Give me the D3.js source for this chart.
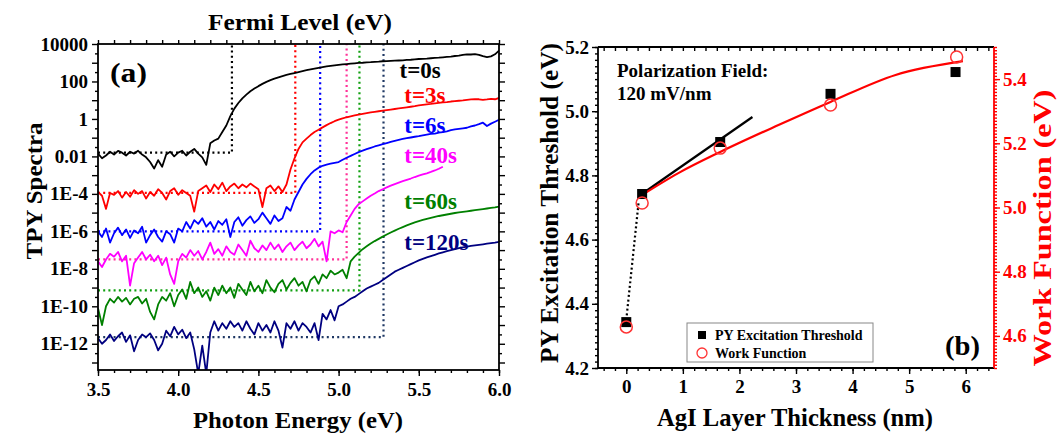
<!DOCTYPE html>
<html>
<head>
<meta charset="utf-8">
<script src="https://cdn.jsdelivr.net/npm/d3@7"></script>
<style>
  body { margin: 0; background: #fff; }
  text { font-family: "Liberation Serif", "Times New Roman", serif; font-weight: bold; }
</style>
</head>
<body>
<svg id="chart" width="1061" height="433"></svg>
<script>
/* global d3 */

// ---- panel (a): TPY spectra, log10 of yield, sampled every 0.025 eV from 3.5 eV ----
var energyStart = 3.5;
var energyStep = 0.025;

var spectrumLabels = ['t=0s', 't=3s', 't=6s', 't=40s', 't=60s', 't=120s'];
var thresholdEnergy = [4.335, 4.73, 4.885, 5.05, 5.13, 5.28];
var baselineLog = [-1.8, -3.95, -6.0, -7.5, -9.15, -11.65];
var labelEnergy = [5.38, 5.41, 5.41, 5.41, 5.41, 5.41];
var labelLog = [2.61, 1.28, -0.33, -1.93, -4.39, -6.58];

var logT0 = [-1.85, -2.1, -1.95, -1.75, -1.9, -1.7, -1.8, -1.95, -1.75, -1.85, -1.7, -1.9, -2.05, -2.3, -2.65, -2.2,
  -2.55, -1.9, -1.75, -2.0, -1.8, -1.7, -1.95, -1.75, -1.6, -1.85, -2.05, -2.45, -1.3, -1.15, -1.05, -0.7, -0.35,
  0.15, 0.55, 0.85, 1.1, 1.3, 1.48, 1.62, 1.75, 1.87, 1.98, 2.07, 2.15, 2.22, 2.29, 2.35, 2.4, 2.45, 2.5, 2.55, 2.6,
  2.64, 2.68, 2.72, 2.76, 2.8, 2.83, 2.86, 2.89, 2.91, 2.93, 2.95, 2.97, 2.99, 3.0, 3.02, 3.03, 3.05, 3.06, 3.08,
  3.09, 3.1, 3.11, 3.12, 3.13, 3.15, 3.16, 3.18, 3.2, 3.21, 3.22, 3.24, 3.26, 3.27, 3.29, 3.31, 3.33, 3.36, 3.38,
  3.42, 3.45, 3.44, 3.46, 3.42, 3.35, 3.3, 3.34, 3.45, 3.65];

var logT3 = [-3.9, -4.1, -4.8, -3.95, -4.05, -3.85, -4.2, -3.9, -4.15, -3.8, -4.0, -3.85, -4.25, -3.9, -4.1, -3.75,
  -3.95, -4.3, -3.85, -3.7, -4.05, -3.8, -3.95, -4.1, -4.95, -3.85, -3.7, -3.55, -3.9, -3.5, -3.75, -3.4, -3.85,
  -3.6, -3.45, -3.7, -3.5, -3.65, -3.45, -3.6, -3.75, -4.7, -3.7, -3.55, -3.85, -3.6, -3.9, -3.5, -2.7, -2.1, -1.6,
  -1.25, -1.05, -0.86, -0.7, -0.58, -0.45, -0.33, -0.22, -0.12, -0.04, 0.03, 0.09, 0.14, 0.19, 0.23, 0.27, 0.31,
  0.35, 0.38, 0.41, 0.44, 0.47, 0.5, 0.53, 0.56, 0.59, 0.62, 0.65, 0.68, 0.72, 0.75, 0.78, 0.8, 0.83, 0.86, 0.88,
  0.9, 0.93, 0.95, 0.97, 0.99, 1.02, 1.04, 1.06, 1.05, 1.02, 1.04, 1.07, 1.05, 1.12];

var logT6 = [-6.0, -6.3, -5.85, -6.6, -6.1, -5.8, -6.2, -5.9, -6.35, -5.95, -6.1, -5.75, -6.6, -6.2, -5.9, -6.3,
  -6.55, -6.0, -6.15, -6.6, -5.85, -6.0, -5.5, -5.85, -5.4, -5.6, -5.3, -5.75, -5.5, -5.9, -5.45, -5.65, -5.35,
  -6.3, -5.5, -5.25, -5.7, -5.4, -5.2, -5.55, -5.35, -5.0, -5.3, -5.6, -5.15, -5.45, -5.3, -4.7, -4.9, -4.3, -3.9,
  -3.5, -3.2, -2.95, -2.75, -2.6, -2.5, -2.44, -2.39, -2.34, -2.3, -2.18, -2.07, -1.97, -1.87, -1.77, -1.69, -1.61,
  -1.54, -1.47, -1.41, -1.35, -1.29, -1.23, -1.17, -1.12, -1.07, -1.03, -0.99, -0.95, -0.92, -0.88, -0.84, -0.8,
  -0.78, -0.73, -0.7, -0.66, -0.6, -0.56, -0.53, -0.5, -0.47, -0.4, -0.35, -0.28, -0.2, -0.38, -0.25, -0.15, -0.05];

var logT40 = [-7.6, -7.9, -7.5, -7.2, -7.35, -7.1, -7.6, -7.3, -8.9, -7.7, -7.4, -7.1, -7.5, -7.25, -7.6, -7.3,
  -7.8, -7.4, -8.3, -8.8, -7.6, -7.2, -7.4, -7.0, -7.3, -7.05, -7.5, -7.1, -6.6, -7.2, -6.95, -7.3, -6.8, -7.1,
  -7.25, -6.7, -7.0, -7.3, -6.5, -6.9, -7.1, -6.75, -7.0, -6.6, -6.95, -6.7, -7.1, -6.8, -6.6, -7.0, -6.75, -6.55,
  -6.9, -6.7, -6.4, -6.8, -6.55, -7.6, -6.0, -6.1, -5.95, -6.05, -5.5, -5.15, -4.8, -4.55, -4.4, -4.25, -4.1,
  -3.98, -3.85, -3.75, -3.65, -3.56, -3.48, -3.4, -3.32, -3.25, -3.18, -3.1, -3.03, -2.96, -2.9, -2.83, -2.75,
  -2.66, -2.55];

var logT60 = [-10.1, -11.0, -10.0, -9.6, -9.8, -9.5, -9.75, -9.55, -9.9, -9.6, -9.5, -9.85, -9.6, -10.3, -10.7,
  -9.9, -9.5, -9.7, -9.3, -10.0, -9.4, -9.1, -9.6, -8.7, -9.3, -9.0, -9.5, -9.2, -9.7, -9.0, -9.4, -8.9, -9.3,
  -9.0, -9.55, -8.8, -9.1, -9.4, -8.7, -9.2, -8.9, -9.3, -8.6, -9.0, -9.25, -8.8, -8.6, -9.1, -8.75, -8.5, -8.9,
  -8.7, -9.2, -8.6, -8.4, -8.8, -8.3, -8.5, -8.1, -8.3, -8.2, -8.05, -8.5, -7.6, -7.35, -7.15, -6.95, -6.8, -6.65,
  -6.52, -6.4, -6.28, -6.17, -6.06, -5.96, -5.86, -5.77, -5.68, -5.6, -5.52, -5.45, -5.39, -5.33, -5.28, -5.23,
  -5.18, -5.14, -5.1, -5.06, -5.02, -4.99, -4.96, -4.93, -4.9, -4.87, -4.84, -4.81, -4.78, -4.75, -4.72, -4.68];

var logT120 = [-11.7, -12.0, -11.8, -11.5, -11.85, -11.6, -11.4, -11.9, -11.55, -12.4, -11.8, -11.5, -11.65,
  -11.45, -11.8, -12.35, -12.0, -11.3, -11.6, -11.1, -11.5, -11.25, -11.7, -11.4, -12.3, -13.6, -12.1, -13.6,
  -11.4, -10.8, -11.3, -10.9, -11.2, -10.8, -11.1, -10.9, -11.3, -10.8, -11.2, -11.5, -10.9, -11.3, -11.0, -11.4,
  -10.8, -11.3, -12.2, -10.9, -11.2, -10.8, -11.3, -10.9, -11.1, -11.4, -10.9, -11.8, -10.4, -10.7, -10.2, -10.75,
  -10.0, -9.9, -9.75, -9.6, -9.5, -9.35, -9.2, -9.05, -8.95, -8.85, -8.75, -8.6, -8.45, -8.3, -8.15, -8.05, -7.95,
  -7.85, -7.75, -7.65, -7.55, -7.47, -7.39, -7.32, -7.25, -7.18, -7.12, -7.06, -7.0, -6.95, -6.9, -6.86, -6.82,
  -6.78, -6.75, -6.72, -6.69, -6.66, -6.63, -6.6, -6.56];

var tpyTickExps = [4, 2, 0, -2, -4, -6, -8, -10, -12];
var tpyTickLabels = ['10000', '100', '1', '0.01', '1E-4', '1E-6', '1E-8', '1E-10', '1E-12'];
var energyTicks = [3.5, 4.0, 4.5, 5.0, 5.5, 6.0];

// ---- panel (b): thresholds vs AgI thickness ----
var pyThickness = [0, 0.28, 1.66, 3.61, 5.82];
var pyThreshold = [4.343, 4.742, 4.904, 5.054, 5.122];
var wfThickness = [0, 0.28, 1.66, 3.61, 5.84];
var workFunction = [4.628, 5.014, 5.185, 5.319, 5.469];
var pyFitX = [0.25, 2.23];
var pyFitY = [4.739, 4.982];
var pyJumpX = [0, 0.22];
var pyJumpY = [4.35, 4.72];
var wfFitX = [0.28, 0.92, 1.66, 2.69, 3.61, 4.76, 5.95];
var wfFitY = [5.039, 5.107, 5.173, 5.257, 5.329, 5.413, 5.456];

var spectrumColors = ['#000000', '#ff0000', '#0000ff', '#ff00ff', '#008000', '#000080'];
var guideColors = ['#000000', '#ff0000', '#0000ff', '#ff3399', '#10a010', '#1f3864'];
var spectra = [logT0, logT3, logT6, logT40, logT60, logT120];

var svg = d3.select('#chart');

function frame(x0, y0, x1, y1) {
  svg.append('rect')
    .attr('x', x0).attr('y', y0)
    .attr('width', x1 - x0).attr('height', y1 - y0)
    .attr('fill', 'none').attr('stroke', '#000').attr('stroke-width', 1.8);
}

function styleAxis(g, color, fontSize) {
  g.select('.domain').remove();
  g.selectAll('line').attr('stroke', color).attr('stroke-width', 1.4);
  g.selectAll('text').attr('fill', color).style('font-size', fontSize + 'px')
    .style('font-family', '"Liberation Serif", "Times New Roman", serif').style('font-weight', 'bold');
}

function title(x, y, str, size, len, rotate, color) {
  var t = svg.append('text')
    .attr('transform', 'translate(' + x + ',' + y + ')' + (rotate ? ' rotate(-90)' : ''))
    .attr('text-anchor', 'middle').attr('dy', '0.35em')
    .attr('fill', color || '#000')
    .style('font-size', size + 'px')
    .text(str);
  if (len) {
    t.attr('textLength', len).attr('lengthAdjust', 'spacingAndGlyphs');
  }
  return t;
}

// ================= panel (a) =================
var xA = d3.scaleLinear().domain([3.5, 6.0]).range([98, 499]);
var yA = d3.scaleLog().domain([Math.pow(10, -13.4), 1e4]).range([370, 44]);

svg.append('clipPath').attr('id', 'clipA')
  .append('rect').attr('x', 98).attr('y', 44).attr('width', 401).attr('height', 326);

var minorE = d3.range(35, 61).map(function(d) { return d / 10; });
var decades = d3.range(-13, 5).map(function(d) { return Math.pow(10, d); });
var halfDecades = d3.range(-13, 4).map(function(d) { return Math.pow(10, d + 0.5); });

svg.append('g').attr('transform', 'translate(0,370)')
  .call(d3.axisBottom(xA).tickValues(minorE).tickSize(3).tickFormat(''))
  .call(styleAxis, '#000', 19);
svg.append('g').attr('transform', 'translate(0,370)')
  .call(d3.axisBottom(xA).tickValues(energyTicks).tickSize(6).tickPadding(7).tickFormat(d3.format('.1f')))
  .call(styleAxis, '#000', 19);
svg.append('g').attr('transform', 'translate(0,44)')
  .call(d3.axisTop(xA).tickValues(minorE).tickSize(4).tickFormat(''))
  .call(styleAxis, '#000', 19);

svg.append('g').attr('transform', 'translate(98,0)')
  .call(d3.axisLeft(yA).tickValues(halfDecades).tickSize(3).tickFormat(''))
  .call(styleAxis, '#000', 19);
svg.append('g').attr('transform', 'translate(98,0)')
  .call(d3.axisLeft(yA).tickValues(decades).tickSize(6).tickPadding(4).tickFormat(function(d) {
    var e = Math.round(Math.log10(d));
    var k = tpyTickExps.indexOf(e);
    return k < 0 ? '' : tpyTickLabels[k];
  }))
  .call(styleAxis, '#000', 19);
svg.append('g').attr('transform', 'translate(499,0)')
  .call(d3.axisRight(yA).tickValues(halfDecades).tickSize(3).tickFormat(''))
  .call(styleAxis, '#000', 19);
svg.append('g').attr('transform', 'translate(499,0)')
  .call(d3.axisRight(yA).tickValues(decades).tickSize(6).tickFormat(''))
  .call(styleAxis, '#000', 19);

var plotA = svg.append('g').attr('clip-path', 'url(#clipA)');

var spectrumLine = d3.line()
  .x(function(d, i) { return xA(energyStart + i * energyStep); })
  .y(function(d) { return yA(Math.pow(10, d)); });

for (var s = 0; s < spectra.length; s++) {
  // threshold guide: horizontal baseline then vertical marker up to the top
  var guide = [[energyStart, baselineLog[s]], [thresholdEnergy[s], baselineLog[s]], [thresholdEnergy[s], 4]];
  plotA.append('path')
    .attr('d', d3.line()
      .x(function(d) { return xA(d[0]); })
      .y(function(d) { return yA(Math.pow(10, d[1])); })(guide))
    .attr('fill', 'none')
    .attr('stroke', guideColors[s])
    .attr('stroke-width', 2.2)
    .attr('stroke-dasharray', '2,3.2');
}

for (var t = 0; t < spectra.length; t++) {
  plotA.append('path')
    .attr('d', spectrumLine(spectra[t]))
    .attr('fill', 'none')
    .attr('stroke', spectrumColors[t])
    .attr('stroke-width', 1.8)
    .attr('stroke-linejoin', 'round');

  svg.append('text')
    .attr('x', xA(labelEnergy[t]))
    .attr('y', yA(Math.pow(10, labelLog[t])))
    .attr('dy', '0.35em')
    .attr('fill', spectrumColors[t])
    .style('font-size', '23px')
    .text(spectrumLabels[t]);
}

frame(98, 44, 499, 370);

svg.append('text').attr('x', 110).attr('y', 72).attr('dy', '0.35em')
  .attr('textLength', 37).attr('lengthAdjust', 'spacingAndGlyphs')
  .style('font-size', '28px').text('(a)');
title(300, 22, 'Fermi Level (eV)', 24, 184, false);
title(298, 420, 'Photon Energy (eV)', 24, 210, false);
title(34, 191, 'TPY Spectra', 24, 137, true);

// ================= panel (b) =================
var xB = d3.scaleLinear().domain([-0.5, 6.5]).range([598, 994]);
var yL = d3.scaleLinear().domain([4.2, 5.2]).range([368, 47]);
var yR = d3.scaleLinear().domain([4.5, 5.5]).range([368, 47]);

var minorT = d3.range(-2, 33).map(function(d) { return d / 5; }).filter(function(d) { return d >= -0.5 && d <= 6.5; });
var minorL = d3.range(420, 521, 2).map(function(d) { return d / 100; });
var minorR = d3.range(450, 551, 1).map(function(d) { return d / 100; });

svg.append('g').attr('transform', 'translate(0,368)')
  .call(d3.axisBottom(xB).tickValues(minorT).tickSize(3).tickFormat(''))
  .call(styleAxis, '#000', 19);
svg.append('g').attr('transform', 'translate(0,368)')
  .call(d3.axisBottom(xB).tickValues(d3.range(0, 7)).tickSize(6).tickPadding(6).tickFormat(d3.format('d')))
  .call(styleAxis, '#000', 19);
svg.append('g').attr('transform', 'translate(0,47)')
  .call(d3.axisBottom(xB).tickValues(minorT).tickSize(4).tickFormat(''))
  .call(styleAxis, '#000', 19);

svg.append('g').attr('transform', 'translate(598,0)')
  .call(d3.axisLeft(yL).tickValues(minorL).tickSize(3).tickFormat(''))
  .call(styleAxis, '#000', 19);
svg.append('g').attr('transform', 'translate(598,0)')
  .call(d3.axisLeft(yL).tickValues([4.2, 4.4, 4.6, 4.8, 5.0, 5.2]).tickSize(6).tickPadding(3).tickFormat(d3.format('.1f')))
  .call(styleAxis, '#000', 19);

svg.append('g').attr('transform', 'translate(994,0)')
  .call(d3.axisRight(yR).tickValues(minorR).tickSize(3).tickFormat(''))
  .call(styleAxis, '#ff0000', 19);
svg.append('g').attr('transform', 'translate(994,0)')
  .call(d3.axisRight(yR).tickValues([4.6, 4.8, 5.0, 5.2, 5.4]).tickSize(6).tickPadding(3).tickFormat(d3.format('.1f')))
  .call(styleAxis, '#ff0000', 19);

svg.append('line').attr('x1', 598).attr('x2', 994).attr('y1', 368).attr('y2', 368)
  .attr('stroke', '#000').attr('stroke-width', 1.8);
svg.append('line').attr('x1', 598).attr('x2', 994).attr('y1', 47).attr('y2', 47)
  .attr('stroke', '#000').attr('stroke-width', 1.8);
svg.append('line').attr('x1', 598).attr('x2', 598).attr('y1', 47).attr('y2', 368)
  .attr('stroke', '#000').attr('stroke-width', 1.8);
svg.append('line').attr('x1', 994).attr('x2', 994).attr('y1', 47).attr('y2', 368)
  .attr('stroke', '#ff0000').attr('stroke-width', 1.8);

var pairLine = function(xs, ys, yScale) {
  return d3.line()
    .x(function(d) { return xB(xs[d]); })
    .y(function(d) { return yScale(ys[d]); })(d3.range(xs.length));
};

svg.append('path').attr('d', pairLine(pyJumpX, pyJumpY, yL))
  .attr('fill', 'none').attr('stroke', '#000').attr('stroke-width', 2.2).attr('stroke-dasharray', '2,2.6');
svg.append('path').attr('d', pairLine(pyFitX, pyFitY, yL))
  .attr('fill', 'none').attr('stroke', '#000').attr('stroke-width', 2.2);
svg.append('path')
  .attr('d', d3.line().curve(d3.curveMonotoneX)
    .x(function(d) { return xB(wfFitX[d]); })
    .y(function(d) { return yR(wfFitY[d]); })(d3.range(wfFitX.length)))
  .attr('fill', 'none').attr('stroke', '#ff0000').attr('stroke-width', 2.2);

svg.selectAll('rect.py').data(d3.range(pyThickness.length)).enter().append('rect')
  .attr('class', 'py')
  .attr('x', function(d) { return xB(pyThickness[d]) - 5; })
  .attr('y', function(d) { return yL(pyThreshold[d]) - 5; })
  .attr('width', 10).attr('height', 10)
  .attr('fill', '#000');

svg.selectAll('circle.wf').data(d3.range(wfThickness.length)).enter().append('circle')
  .attr('class', 'wf')
  .attr('cx', function(d) { return xB(wfThickness[d]); })
  .attr('cy', function(d) { return yR(workFunction[d]); })
  .attr('r', 6)
  .attr('fill', 'none').attr('stroke', '#ff3333').attr('stroke-width', 1.5);

// legend
svg.append('rect').attr('x', 687).attr('y', 323).attr('width', 186).attr('height', 39)
  .attr('fill', '#fff').attr('stroke', '#888').attr('stroke-width', 1);
svg.append('rect').attr('x', 698).attr('y', 331).attr('width', 8).attr('height', 8).attr('fill', '#000');
svg.append('circle').attr('cx', 702).attr('cy', 353).attr('r', 5)
  .attr('fill', 'none').attr('stroke', '#ff3333').attr('stroke-width', 1.3);
svg.append('text').attr('x', 715).attr('y', 335).attr('dy', '0.35em')
  .style('font-size', '14px').text('PY Excitation Threshold');
svg.append('text').attr('x', 715).attr('y', 353).attr('dy', '0.35em')
  .style('font-size', '14px').text('Work Function');

svg.append('text').attr('x', 617).attr('y', 70).attr('dy', '0.35em')
  .style('font-size', '19px').text('Polarization Field:');
svg.append('text').attr('x', 617).attr('y', 93).attr('dy', '0.35em')
  .style('font-size', '19px').text('120 mV/nm');
svg.append('text').attr('x', 945).attr('y', 345).attr('dy', '0.35em')
  .attr('textLength', 35).attr('lengthAdjust', 'spacingAndGlyphs')
  .style('font-size', '28px').text('(b)');

title(795, 417, 'AgI Layer Thickness (nm)', 26, 276, false);
title(549, 203, 'PY Excitation Threshold (eV)', 25, 320, true);
title(1042, 228, 'Work Function (eV)', 26, 277, true, '#ff0000');
</script>
</body>
</html>
